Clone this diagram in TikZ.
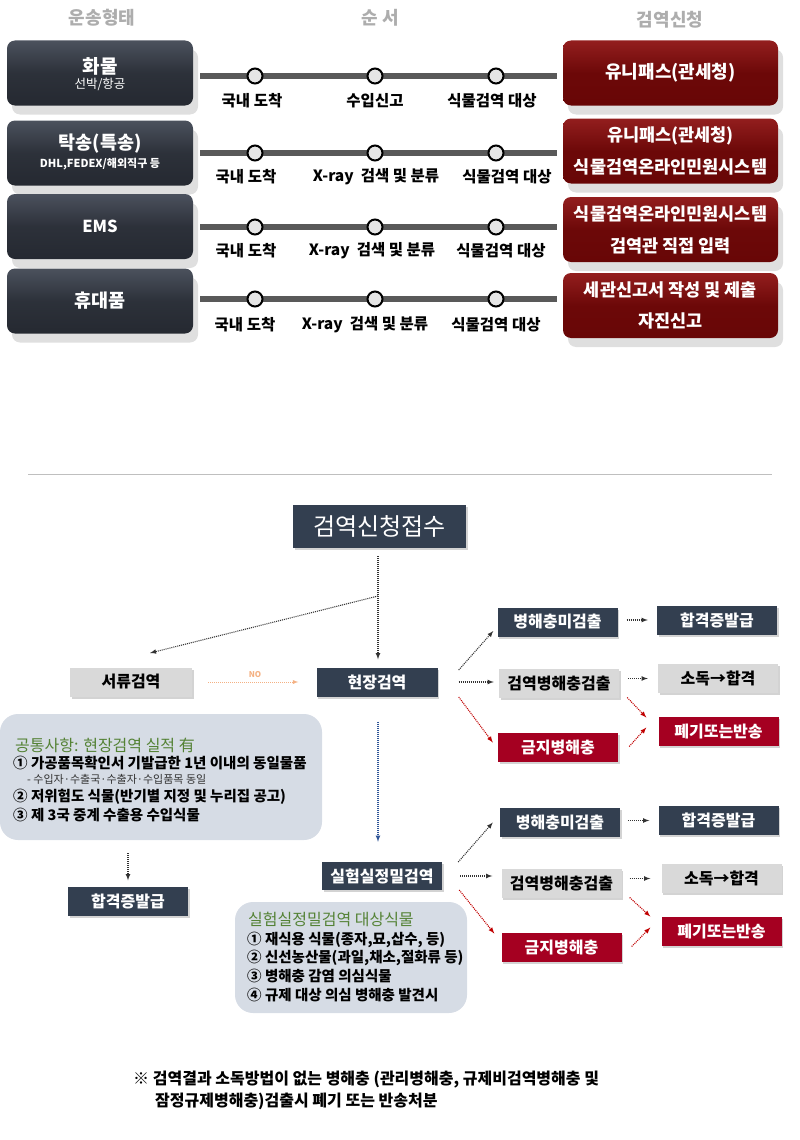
\documentclass[tikz,border=0pt]{standalone}
\usepackage{fontspec}
\setmainfont{Noto Sans CJK KR}
\usepackage{xcolor}
\usepackage{tikz}
\usetikzlibrary{shapes.geometric, arrows, shadows}
\definecolor{modetop}{HTML}{4B515D}
\definecolor{modebot}{HTML}{252931}
\definecolor{applytop}{HTML}{931E1E}
\definecolor{applybot}{HTML}{680606}
\definecolor{navy}{HTML}{333F50}
\definecolor{lightbox}{HTML}{D9D9D9}
\definecolor{banred}{HTML}{A50021}
\definecolor{infofill}{HTML}{D6DCE5}
\definecolor{infogreen}{HTML}{548235}
\definecolor{headgrey}{HTML}{ADADAD}
\definecolor{trackgrey}{HTML}{595959}
\definecolor{noorange}{HTML}{F4B183}
\definecolor{labblue}{HTML}{2F5597}
\definecolor{labred}{HTML}{C00000}
\tikzstyle{modebox} = [rectangle, rounded corners=8pt, minimum width=186pt, minimum height=65pt, top color=modetop, bottom color=modebot, middle color=modebot!80!modetop, text=white, align=center, drop shadow={shadow xshift=5pt, shadow yshift=-9pt, opacity=0.25}]
\tikzstyle{applybox} = [rectangle, rounded corners=8pt, minimum width=215pt, minimum height=65pt, top color=applytop, bottom color=applybot, middle color=applybot!90!applytop, text=white, align=center, drop shadow={shadow xshift=5pt, shadow yshift=-9pt, opacity=0.25}]
\tikzstyle{track} = [line width=6pt, trackgrey]
\tikzstyle{darr} = [line width=1.1pt, dash pattern=on 1pt off 1pt, ->, >=latex, black!80]

\begin{document}
\begin{tikzpicture}[x=1pt, y=-1pt]
    \tikzset{stop/.style = {draw, shape=circle, line width=2pt, fill=black!10, minimum size=15pt, inner sep=0},
    steplabel/.style = {font=\fontsize{15.5}{17}\selectfont\bfseries},
    head/.style = {font=\fontsize{18}{20}\selectfont\bfseries, text=headgrey},
    final/.style = {draw=none, shape=rectangle, minimum width=120pt, minimum height=29pt, inner sep=0, font=\fontsize{16}{18}\selectfont\bfseries, drop shadow={shadow xshift=1.5pt, shadow yshift=-2pt, opacity=0.35}},
    navybox/.style = {final, fill=navy, text=white},
    greybox/.style = {final, fill=lightbox, text=black},
    redbox/.style = {final, fill=banred, text=white},
    infobox/.style = {shape=rectangle, rounded corners=18pt, fill=infofill, inner sep=0},
    infohead/.style = {anchor=west, inner sep=0, font=\fontsize{16}{18}\selectfont, text=infogreen},
    infoline/.style = {anchor=west, inner sep=0, font=\fontsize{14.5}{16}\selectfont\bfseries},
    rarr/.style = {darr, labred},
    noarr/.style = {darr, noorange, line width=0.9pt},
    labarr/.style = {darr, labblue}}
\useasboundingbox (0,0) rectangle (800,1140);

\node (modehead) [head] at (102,18) {운송형태};
\node (orderhead) [head] at (380,18) {순 서};
\node (applyhead) [head] at (670,20) {검역신청};

\node (cargo) [modebox] at (100,73) {};
\node (cargot) [text=white, font=\fontsize{19}{21}\selectfont\bfseries] at (100,66) {화물};
\node (cargos) [text=white, font=\fontsize{12.5}{14}\selectfont] at (100,84) {선박/항공};
\node (courier) [modebox] at (100,153) {};
\node (couriert) [text=white, font=\fontsize{18.5}{20}\selectfont\bfseries] at (100,144) {탁송(특송)};
\node (couriers) [text=white, font=\fontsize{11}{12}\selectfont\bfseries] at (100,164) {DHL,FEDEX/해외직구 등};
\node (ems) [modebox, font=\fontsize{16.5}{18}\selectfont\bfseries] at (100,226.5) {EMS};
\node (carry) [modebox, font=\fontsize{18.5}{20}\selectfont\bfseries] at (100,301) {휴대품};

\coordinate (r1s) at (200,76);
\coordinate (r1e) at (557,76);
\draw [track] (r1s) -- (r1e);
\node (r1a) [stop] at (255,76) {};
\node (r1b) [stop] at (375,76) {};
\node (r1c) [stop] at (496,76) {};
\node (r1al) [steplabel] at (252,101) {국내 도착};
\node (r1bl) [steplabel] at (375,101) {수입신고};
\node (r1cl) [steplabel] at (492,101) {식물검역 대상};

\coordinate (r2s) at (200,153);
\coordinate (r2e) at (557,153);
\draw [track] (r2s) -- (r2e);
\node (r2a) [stop] at (255,153) {};
\node (r2b) [stop] at (375,153) {};
\node (r2c) [stop] at (496,153) {};
\node (r2al) [steplabel] at (246,177) {국내 도착};
\node (r2bl) [steplabel] at (376,177) {X-ray\ \ 검색 및 분류};
\node (r2cl) [steplabel] at (507,177) {식물검역 대상};

\coordinate (r3s) at (200,227);
\coordinate (r3e) at (557,227);
\draw [track] (r3s) -- (r3e);
\node (r3a) [stop] at (255,227) {};
\node (r3b) [stop] at (375,227) {};
\node (r3c) [stop] at (496,227) {};
\node (r3al) [steplabel] at (246,251) {국내 도착};
\node (r3bl) [steplabel] at (372,251) {X-ray\ \ 검색 및 분류};
\node (r3cl) [steplabel] at (501,251) {식물검역 대상};

\coordinate (r4s) at (200,299);
\coordinate (r4e) at (557,299);
\draw [track] (r4s) -- (r4e);
\node (r4a) [stop] at (255,299) {};
\node (r4b) [stop] at (375,299) {};
\node (r4c) [stop] at (496,299) {};
\node (r4al) [steplabel] at (245,325) {국내 도착};
\node (r4bl) [steplabel] at (365,325) {X-ray\ \ 검색 및 분류};
\node (r4cl) [steplabel] at (496,325) {식물검역 대상};

\node (unipass) [applybox, font=\fontsize{18}{20}\selectfont\bfseries] at (670.5,73) {유니패스(관세청)};
\node (online) [applybox, font=\fontsize{17.5}{32}\selectfont\bfseries] at (670.5,151) {유니패스(관세청)\\식물검역온라인민원시스템};
\node (inspector) [applybox, font=\fontsize{17.5}{32}\selectfont\bfseries] at (670.5,229.5) {식물검역온라인민원시스템\\검역관 직접 입력};
\node (selfdecl) [applybox, font=\fontsize{17.5}{31}\selectfont\bfseries] at (670.5,305.5) {세관신고서 작성 및 제출\\자진신고};

\coordinate (sepl) at (28,474);
\coordinate (sepr) at (772,474);
\draw [black!25, line width=0.8pt] (sepl) -- (sepr);

\node (accept) [navybox, minimum width=173pt, minimum height=43pt, font=\fontsize{24}{26}\selectfont] at (379.5,526.5) {검역신청접수};
\node (docs) [greybox, minimum width=122pt] at (131,682) {서류검역};
\node (field) [navybox, minimum width=121pt] at (377,682) {현장검역};
\node (common) [infobox, minimum width=322pt, minimum height=126pt] at (161,777) {};
\node (commonh) [infohead] at (15,745) {공통사항: 현장검역 실적 有};
\node (commona) [infoline] at (13,763) {① 가공품목확인서 기발급한 1년 이내의 동일물품};
\node (commonb) [infoline, font=\fontsize{11}{12}\selectfont, text=black!80] at (27,779) {- 수입자·수출국·수출자·수입품목 동일};
\node (commonc) [infoline] at (13,797) {② 저위험도 식물(반기별 지정 및 누리집 공고)};
\node (commond) [infoline] at (13,815) {③ 제 3국 중계 수출용 수입식물};
\node (passl) [navybox] at (128,901) {합격증발급};

\node (lab) [navybox, minimum width=120pt, minimum height=28pt] at (382,876) {실험실정밀검역};
\node (labinfo) [infobox, minimum width=232pt, minimum height=111pt] at (351,957.5) {};
\node (labinfoh) [infohead] at (248,919) {실험실정밀검역 대상식물};
\node (labinfoa) [infoline] at (247,940) {① 재식용 식물(종자,묘,삽수, 등)};
\node (labinfob) [infoline] at (247,958) {② 신선농산물(과일,채소,절화류 등)};
\node (labinfoc) [infoline] at (247,976) {③ 병해충 감염 의심식물};
\node (labinfod) [infoline] at (247,995) {④ 규제 대상 의심 병해충 발견시};

\node (minone) [navybox] at (557.5,622) {병해충미검출};
\node (passone) [navybox] at (717,620) {합격증발급};
\node (detone) [greybox] at (559,683.5) {검역병해충검출};
\node (disone) [greybox] at (718,678.5) {소독→합격};
\node (banone) [redbox] at (558,747.5) {금지병해충};
\node (rejone) [redbox] at (718.5,731.5) {폐기또는반송};

\node (mintwo) [navybox] at (560,822.5) {병해충미검출};
\node (passtwo) [navybox] at (718.5,820.5) {합격증발급};
\node (dettwo) [greybox] at (561.5,883.5) {검역병해충검출};
\node (distwo) [greybox] at (721.5,878.5) {소독→합격};
\node (bantwo) [redbox] at (561.5,947.5) {금지병해충};
\node (rejtwo) [redbox] at (721.5,931.5) {폐기또는반송};

\coordinate (split) at (378,596);
\coordinate (docsin) at (150,653);
\draw [darr, shorten <=8pt, shorten >=8pt] (accept.south -| split) -- (split |- field.north);
\draw [darr] (split) -- (docsin);
\draw [noarr, shorten <=16pt, shorten >=18pt] (docs.east) -- (field.west);
\node (no) [text=noorange, font=\fontsize{8}{9}\selectfont\bfseries] at (255,675) {NO};
\draw [labarr, shorten <=25pt, shorten >=20pt] (field.south -| split) -- (split |- lab.north);
\draw [darr, shorten <=13pt, shorten >=6pt] (common.south -| passl.north) -- (passl.north);

\draw [darr] ([xshift=21pt,yshift=12pt]field.east) -- ([xshift=-4pt,yshift=-9pt]minone.west);
\draw [darr, shorten <=21pt, shorten >=5pt] (field.east) -- (field.east -| detone.west);
\draw [rarr] ([xshift=21pt,yshift=-15pt]field.east) -- ([xshift=-5pt,yshift=5pt]banone.west);
\draw [darr, shorten <=9pt, shorten >=9pt] (minone.east |- passone.west) -- (passone.west);
\draw [darr, shorten <=9pt, shorten >=10pt] (detone.east |- disone.west) -- (disone.west);
\draw [rarr] ([xshift=8pt,yshift=-14pt]detone.east) -- ([xshift=-12pt,yshift=14pt]rejone.west);
\draw [rarr] ([xshift=11pt,yshift=1pt]banone.east) -- ([xshift=-12pt,yshift=4pt]rejone.west);

\draw [darr] ([xshift=16pt,yshift=14pt]lab.east) -- ([xshift=-7pt]mintwo.west);
\draw [darr, shorten <=18pt, shorten >=9pt] (lab.east) -- (lab.east -| dettwo.west);
\draw [rarr] ([xshift=17pt,yshift=-14pt]lab.east) -- ([xshift=-7pt,yshift=14pt]bantwo.west);
\draw [darr, shorten <=8pt, shorten >=9pt] (mintwo.east |- passtwo.west) -- (passtwo.west);
\draw [darr, shorten <=8pt, shorten >=11pt] (dettwo.east |- distwo.west) -- (distwo.west);
\draw [rarr] ([xshift=8pt,yshift=-14pt]dettwo.east) -- ([xshift=-11pt,yshift=15pt]rejtwo.west);
\draw [rarr] ([xshift=10pt,yshift=1pt]bantwo.east) -- ([xshift=-11pt,yshift=4pt]rejtwo.west);

\node (note) [anchor=north west, align=left, inner sep=0, font=\fontsize{16}{22}\selectfont\bfseries] at (133,1071) {※ 검역결과 소독방법이 없는 병해충 (관리병해충, 규제비검역병해충 및\\\hspace{22pt}잠정규제병해충)검출시 폐기 또는 반송처분};

\end{tikzpicture}
\end{document}
